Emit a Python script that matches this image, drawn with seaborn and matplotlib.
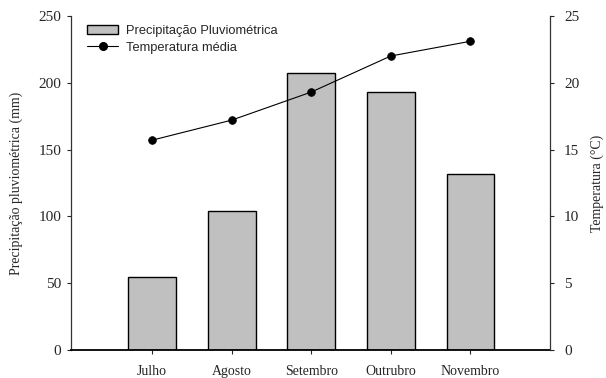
import matplotlib
matplotlib.use("Agg")
import matplotlib.pyplot as plt
import seaborn as sns
import pandas as pd
from matplotlib.patches import Patch
from matplotlib.lines import Line2D

meses = ["Julho", "Agosto", "Setembro", "Outrubro", "Novembro"]
precipitacao = [55, 104, 207, 193, 132]
temperatura = [15.7, 17.2, 19.3, 22.0, 23.1]

df = pd.DataFrame({"mes": meses, "prec": precipitacao, "temp": temperatura})

sns.set_style("ticks")
plt.rcParams["font.family"] = ["Liberation Serif", "DejaVu Serif"]

fig = plt.figure(figsize=(6.06, 3.78), dpi=100)
ax = fig.add_axes([0.117, 0.074, 0.7906, 0.884])

sns.barplot(data=df, x="mes", y="prec", color="#c0c0c0", saturation=1,
            edgecolor="black", linewidth=1.0, width=0.6, ax=ax)

ax2 = ax.twinx()
sns.pointplot(data=df, x="mes", y="temp", color="black", markers="o",
              linestyles="-", markersize=5.5, linewidth=0.8, ax=ax2)

ax.set_xlim(-1.02, 5.0)
ax2.set_xlim(-1.02, 5.0)
ax.set_ylim(0, 250)
ax2.set_ylim(0, 25)
ax.set_yticks(range(0, 251, 50))
ax2.set_yticks(range(0, 26, 5))

ax.set_xlabel("")
ax.set_ylabel("Precipitação pluviométrica (mm)", fontsize=10, labelpad=11)
ax2.set_ylabel("Temperatura (°C)", fontsize=10, labelpad=8)

for a in (ax, ax2):
    a.spines["top"].set_visible(False)
    for s in a.spines.values():
        s.set_color("#333333")
        s.set_linewidth(0.9)
ax.spines["right"].set_visible(False)
ax2.spines["left"].set_visible(False)
ax2.spines["bottom"].set_visible(False)
ax.spines["bottom"].set_linewidth(1.3)
ax.spines["bottom"].set_color("black")

ax.tick_params(axis="x", length=3, width=0.8, pad=8, labelsize=10, direction="out")
ax.tick_params(axis="y", length=3, width=0.8, pad=4, labelsize=11, direction="out")
ax2.tick_params(axis="y", length=3, width=0.8, pad=7, labelsize=11, direction="out")

handles = [Patch(facecolor="#c0c0c0", edgecolor="black", linewidth=1.0),
           Line2D([], [], color="black", marker="o", markersize=5.5, linewidth=0.8)]
ax.legend(handles, ["Precipitação Pluviométrica", "Temperatura média"],
          loc="upper left", bbox_to_anchor=(0.015, 1.0), frameon=False,
          prop={"family": "Liberation Sans", "size": 9.3},
          handlelength=2.4, handletextpad=0.6, labelspacing=0.35,
          borderaxespad=0.3)

fig.savefig("out.png", dpi=100)
